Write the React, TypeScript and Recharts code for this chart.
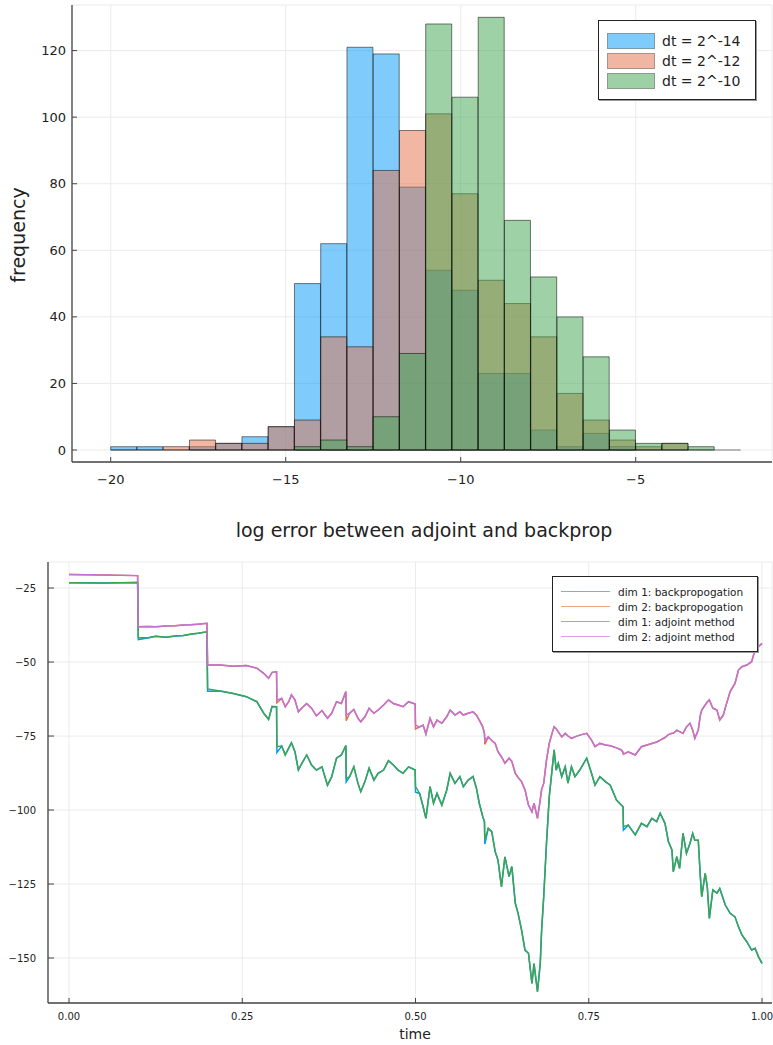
import React from 'react';
import {
  BarChart,
  Bar,
  LineChart,
  Line,
  XAxis,
  YAxis,
  CartesianGrid,
  ReferenceLine,
} from 'recharts';

// histogram: bin centres (bins are 0.75 wide, from -20 to -2)
const binCenters = [
  -19.625, -18.875, -18.125, -17.375, -16.625, -15.875, -15.125, -14.375,
  -13.625, -12.875, -12.125, -11.375, -10.625, -9.875, -9.125, -8.375,
  -7.625, -6.875, -6.125, -5.375, -4.625, -3.875, -3.125, -2.375,
];
const countsDt14 = [1, 1, 0, 1, 2, 4, 7, 50, 62, 121, 119, 79, 54, 48, 23, 23, 6, 1, 5, 1, 0, 0, 0, 0];
const countsDt12 = [0, 0, 1, 3, 2, 2, 7, 9, 34, 31, 84, 96, 101, 77, 51, 44, 34, 17, 9, 3, 1, 2, 0, 0];
const countsDt10 = [0, 0, 0, 0, 0, 0, 0, 1, 3, 1, 10, 29, 128, 106, 130, 69, 52, 40, 28, 6, 2, 2, 1, 0];
const histTicks = [-20, -15, -10, -5];
const freqTicks = [0, 20, 40, 60, 80, 100, 120];

// trajectories
const times = [
  0, 0.05, 0.099, 0.1, 0.115, 0.125, 0.14, 0.153, 0.165, 0.175, 0.186, 0.199,
  0.2, 0.218, 0.237, 0.256, 0.271, 0.281, 0.288, 0.293, 0.2995,
  0.3, 0.307, 0.312, 0.317, 0.321, 0.326, 0.331, 0.336, 0.343, 0.35, 0.357, 0.365, 0.373, 0.379, 0.386, 0.393, 0.3995,
  0.4, 0.405, 0.411, 0.417, 0.421, 0.427, 0.433, 0.44, 0.446, 0.454, 0.461, 0.468, 0.475, 0.482, 0.49, 0.4995,
  0.5, 0.506, 0.511, 0.515, 0.521, 0.526, 0.531, 0.538, 0.545, 0.55, 0.557, 0.564, 0.569, 0.576, 0.583, 0.588, 0.592, 0.597, 0.5995,
  0.6, 0.605, 0.61, 0.615, 0.619, 0.624, 0.629, 0.635, 0.639, 0.644, 0.648, 0.653, 0.658, 0.663, 0.668, 0.671, 0.676, 0.68, 0.682, 0.685, 0.689, 0.693, 0.697,
  0.7, 0.703, 0.706, 0.711, 0.716, 0.72, 0.725, 0.73, 0.737, 0.747, 0.754, 0.759, 0.766, 0.774, 0.781, 0.79, 0.797, 0.7995,
  0.8, 0.807, 0.817, 0.826, 0.834, 0.841, 0.848, 0.853, 0.86, 0.865, 0.87, 0.872, 0.877, 0.881, 0.886, 0.891, 0.896,
  0.9, 0.903, 0.908, 0.911, 0.913, 0.918, 0.921, 0.924, 0.929, 0.935, 0.939, 0.944, 0.947, 0.954, 0.961, 0.966, 0.971, 0.978, 0.985, 0.99, 0.995, 1,
];
const dim1Adjoint = [
  -23.2, -23.3, -23.1, -41.7, -41.8, -41.3, -41.6, -41.2, -41.0, -40.6, -40.3, -39.8,
  -59.1, -59.8, -60.6, -61.7, -63.4, -67.3, -69.4, -65.0, -65.1,
  -78.6, -78.4, -81.4, -79.1, -77.3, -80.3, -86.5, -84.2, -81.4, -84.8, -86.5, -85.4, -91.6, -88.8, -82.5, -81.4, -78.2,
  -89.3, -88.7, -85.4, -91.0, -93.8, -90.4, -85.9, -89.9, -87.6, -86.5, -83.3, -84.8, -86.5, -87.6, -85.4, -86.5,
  -92.1, -94.4, -98.9, -102.8, -92.1, -97.7, -94.4, -98.3, -93.3, -87.6, -91.0, -88.7, -92.1, -89.9, -88.7, -92.7, -97.7, -102.2, -104.0,
  -110.1, -106.2, -107.3, -114.1, -116.9, -125.9, -115.8, -122.5, -119.1, -131.5, -134.9, -140.5, -147.3, -148.4, -158.6, -151.9, -161.4, -151.8, -140.5, -129.3, -111.3, -95.5, -86.5,
  -79.7, -86.5, -84.2, -88.7, -85.4, -90.9, -85.4, -88.7, -86.5, -82.5, -87.6, -91.6, -88.7, -90.4, -91.6, -96.6, -98.3, -98.9,
  -105.6, -105.1, -108.4, -104.5, -105.6, -102.8, -103.9, -101.1, -104.5, -110.7, -113.5, -120.8, -115.8, -119.7, -107.9, -114.6, -111.3,
  -107.9, -110.2, -110.2, -122.5, -129.3, -121.4, -125.9, -136.6, -127.0, -128.1, -126.5, -130.0, -132.1, -134.9, -136.1, -139.4, -142.2, -144.5, -147.3, -146.7, -149.6, -151.8,
];
const dim2Adjoint = [
  -20.4, -20.6, -20.8, -38.1, -38.0, -38.1, -37.8, -37.7, -37.5, -37.4, -37.2, -36.9,
  -51.0, -51.0, -51.4, -51.2, -52.1, -53.8, -55.5, -53.5, -53.3,
  -62.8, -62.3, -65.1, -63.4, -61.1, -62.8, -66.8, -65.5, -64.0, -65.6, -68.2, -66.4, -69.0, -67.3, -63.4, -64.0, -60.0,
  -67.9, -67.3, -66.0, -69.0, -70.2, -68.5, -65.6, -67.3, -66.2, -64.5, -62.8, -64.0, -64.5, -65.1, -63.4, -64.2,
  -71.3, -71.9, -71.3, -74.3, -69.0, -71.9, -69.6, -70.7, -68.5, -66.2, -67.9, -66.8, -67.9, -67.3, -66.8, -68.0, -69.6, -71.9, -74.2,
  -76.4, -75.3, -76.5, -77.5, -80.3, -82.0, -84.2, -82.5, -83.6, -87.6, -89.0, -90.4, -93.2, -98.3, -100.6, -97.7, -102.8, -96.6, -93.0, -91.0, -83.1, -77.5, -74.1,
  -71.9, -72.5, -73.6, -75.3, -74.1, -75.0, -75.8, -75.3, -74.7, -74.1, -76.4, -78.6, -77.5, -78.0, -78.3, -79.0, -79.7, -80.5,
  -81.1, -80.3, -81.4, -78.6, -78.0, -77.5, -77.0, -76.4, -75.5, -74.5, -74.1, -74.1, -73.0, -73.5, -74.1, -71.9, -70.7,
  -73.0, -75.8, -73.0, -68.0, -66.2, -64.5, -63.5, -62.8, -65.6, -66.2, -69.6, -68.0, -65.5, -60.0, -57.2, -52.7, -51.6, -51.0, -49.9, -45.9, -44.8, -43.7,
];
// where backprop differs visibly from the adjoint (just after the jumps)
const dim1BackpropJumps: [number, number][] = [[0.1, -42.4], [0.2, -59.9], [0.3, -80.6], [0.4, -90.5], [0.5, -94.0], [0.6, -111.5], [0.8, -106.8]];
const dim2BackpropJumps: [number, number][] = [[0.3, -63.8], [0.4, -69.8], [0.5, -72.6], [0.6, -77.8]];
const timeTicks = [0, 0.25, 0.5, 0.75, 1];
const valueTicks = [-150, -125, -100, -75, -50, -25];

const BLUE = '#009AFA';
const ORANGE = '#E36F47';
const GREEN = '#3EA44E';
const PINK = '#C371D2';
const FONT = '"DejaVu Sans", sans-serif';
const AXIS = '#444';
const GRID = '#ebebeb';

const minus = (v: number) => (v < 0 ? '\u2212' + String(Math.abs(v)) : String(v));

const histData = binCenters.map((c, i) => ({
  center: c,
  dt14: countsDt14[i],
  dt12: countsDt12[i],
  dt10: countsDt10[i],
}));

const jumpAt = (list: [number, number][], t: number) => {
  const hit = list.find((p) => Math.abs(p[0] - t) < 1e-9);
  return hit ? hit[1] : undefined;
};

const lineData = times.map((t, i) => ({
  t,
  d1b: jumpAt(dim1BackpropJumps, t) ?? dim1Adjoint[i],
  d2b: jumpAt(dim2BackpropJumps, t) ?? dim2Adjoint[i],
  d1a: dim1Adjoint[i],
  d2a: dim2Adjoint[i],
}));

// top chart geometry
const TOP_W = 773;
const TOP_H = 545;
const TOP_Y_W = 72;
const TOP_MARGIN = { top: 5, right: 1, bottom: 53, left: 0 };
const HIST_DOMAIN: [number, number] = [-21.106, -1.106];
const binWidth = binCenters[1] - binCenters[0];
const firstEdge = binCenters[0] - binWidth / 2;
const lastEdge = binCenters[binCenters.length - 1] + binWidth / 2;
const plotW = TOP_W - TOP_Y_W - TOP_MARGIN.right;
const pxPerUnit = plotW / (HIST_DOMAIN[1] - HIST_DOMAIN[0]);
const padL = (firstEdge - HIST_DOMAIN[0]) * pxPerUnit;
const padR = (HIST_DOMAIN[1] - lastEdge) * pxPerUnit;

const tickStyle = (size: number) => ({ fill: '#222', fontSize: size, fontFamily: FONT });

const Text = ({ x, y, size, children, rotate }: any) => (
  <div
    style={{
      position: 'absolute',
      left: x,
      top: y,
      transform: `translate(-50%, -50%)${rotate ? ' rotate(-90deg)' : ''}`,
      fontFamily: FONT,
      fontSize: size,
      color: '#222',
      whiteSpace: 'nowrap',
    }}
  >
    {children}
  </div>
);

const series = [
  { key: 'dt14', name: 'dt = 2^-14', color: BLUE },
  { key: 'dt12', name: 'dt = 2^-12', color: ORANGE },
  { key: 'dt10', name: 'dt = 2^-10', color: GREEN },
];

const lines = [
  { key: 'd1b', name: 'dim 1: backpropogation', color: BLUE },
  { key: 'd2b', name: 'dim 2: backpropogation', color: ORANGE },
  { key: 'd1a', name: 'dim 1: adjoint method', color: GREEN },
  { key: 'd2a', name: 'dim 2: adjoint method', color: PINK },
];

export default function App() {
  return (
    <div style={{ position: 'absolute', left: 0, top: 0, width: 773, height: 1045, background: '#fff' }}>
      <div style={{ position: 'absolute', left: 0, top: 0 }}>
        <BarChart width={TOP_W} height={TOP_H} data={histData} margin={TOP_MARGIN} barCategoryGap={0} barGap={0}>
          <CartesianGrid xAxisId="num" stroke={GRID} />
          <XAxis
            xAxisId="num"
            dataKey="center"
            type="number"
            scale="linear"
            domain={HIST_DOMAIN}
            allowDataOverflow
            ticks={histTicks}
            tickFormatter={minus}
            height={30}
            axisLine={{ stroke: AXIS, strokeWidth: 1.3 }}
            tickLine={{ stroke: AXIS }}
            tickSize={-5}
            tickMargin={18}
            tick={tickStyle(13)}
          />
          {series.map((s) => (
            <XAxis
              key={s.key}
              xAxisId={s.key}
              dataKey="center"
              type="category"
              hide
              height={0}
              padding={{ left: padL, right: padR }}
            />
          ))}
          <YAxis
            width={TOP_Y_W}
            domain={[-3.6, 133.7]}
            allowDataOverflow
            ticks={freqTicks}
            axisLine={{ stroke: AXIS, strokeWidth: 1.3 }}
            tickLine={{ stroke: AXIS }}
            tickSize={-5}
            tickMargin={11}
            tick={tickStyle(13)}
          />
          {series.map((s) => (
            <Bar
              key={s.key}
              xAxisId={s.key}
              dataKey={s.key}
              fill={s.color}
              fillOpacity={0.5}
              stroke="#000"
              strokeOpacity={0.5}
              strokeWidth={1}
              isAnimationActive={false}
            />
          ))}
          <ReferenceLine
            xAxisId="num"
            segment={[{ x: firstEdge, y: 0 }, { x: lastEdge, y: 0 }]}
            stroke="#000"
            strokeOpacity={0.5}
          />
        </BarChart>
      </div>
      <Text x={18} y={235} size={19} rotate>frequency</Text>
      <Text x={424} y={530} size={19}>log error between adjoint and backprop</Text>
      <div
        style={{
          position: 'absolute',
          left: 598,
          top: 20,
          width: 158,
          height: 80,
          boxSizing: 'border-box',
          border: '1px solid #222',
          boxShadow: '1px 1px 0 #999',
          background: '#fff',
        }}
      >
        {series.map((s, i) => (
          <div key={s.key} style={{ position: 'absolute', left: 8, top: 11 + i * 20, height: 17, display: 'flex', alignItems: 'center' }}>
            <div style={{ width: 48, height: 16, boxSizing: 'border-box', border: '1px solid rgba(0,0,0,0.65)', background: s.color, opacity: 0.5 }} />
            <span style={{ marginLeft: 7, fontFamily: FONT, fontSize: 14, color: '#222' }}>{s.name}</span>
          </div>
        ))}
      </div>

      <div style={{ position: 'absolute', left: 0, top: 545 }}>
        <LineChart width={773} height={500} data={lineData} margin={{ top: 17, right: 1, bottom: 22, left: 0 }}>
          <CartesianGrid stroke={GRID} />
          <XAxis
            dataKey="t"
            type="number"
            domain={[-0.0303, 1.0144]}
            allowDataOverflow
            ticks={timeTicks}
            tickFormatter={(v: number) => v.toFixed(2)}
            height={20}
            axisLine={{ stroke: AXIS, strokeWidth: 1.3 }}
            tickLine={{ stroke: AXIS }}
            tickSize={-5}
            tickMargin={15}
            tick={tickStyle(10)}
          />
          <YAxis
            width={48}
            domain={[-165.2, -16.2]}
            allowDataOverflow
            ticks={valueTicks}
            tickFormatter={minus}
            axisLine={{ stroke: AXIS, strokeWidth: 1.3 }}
            tickLine={{ stroke: AXIS }}
            tickSize={-6}
            tickMargin={18}
            tick={tickStyle(10)}
          />
          {lines.map((l) => (
            <Line
              key={l.key}
              dataKey={l.key}
              type="linear"
              stroke={l.color}
              strokeWidth={1.5}
              dot={false}
              isAnimationActive={false}
            />
          ))}
        </LineChart>
      </div>
      <Text x={415} y={1034} size={14}>time</Text>
      <div
        style={{
          position: 'absolute',
          left: 552,
          top: 576,
          width: 206,
          height: 76,
          boxSizing: 'border-box',
          border: '1px solid #222',
          boxShadow: '1px 1px 0 #999',
          background: '#fff',
        }}
      >
        {lines.map((l, i) => (
          <div key={l.key} style={{ position: 'absolute', left: 8, top: 7 + i * 15, height: 15, display: 'flex', alignItems: 'center' }}>
            <div style={{ width: 49, height: 0, borderTop: `1.5px solid ${l.color}`, opacity: 0.65 }} />
            <span style={{ marginLeft: 8, fontFamily: FONT, fontSize: 10.5, color: '#222' }}>{l.name}</span>
          </div>
        ))}
      </div>
    </div>
  );
}
